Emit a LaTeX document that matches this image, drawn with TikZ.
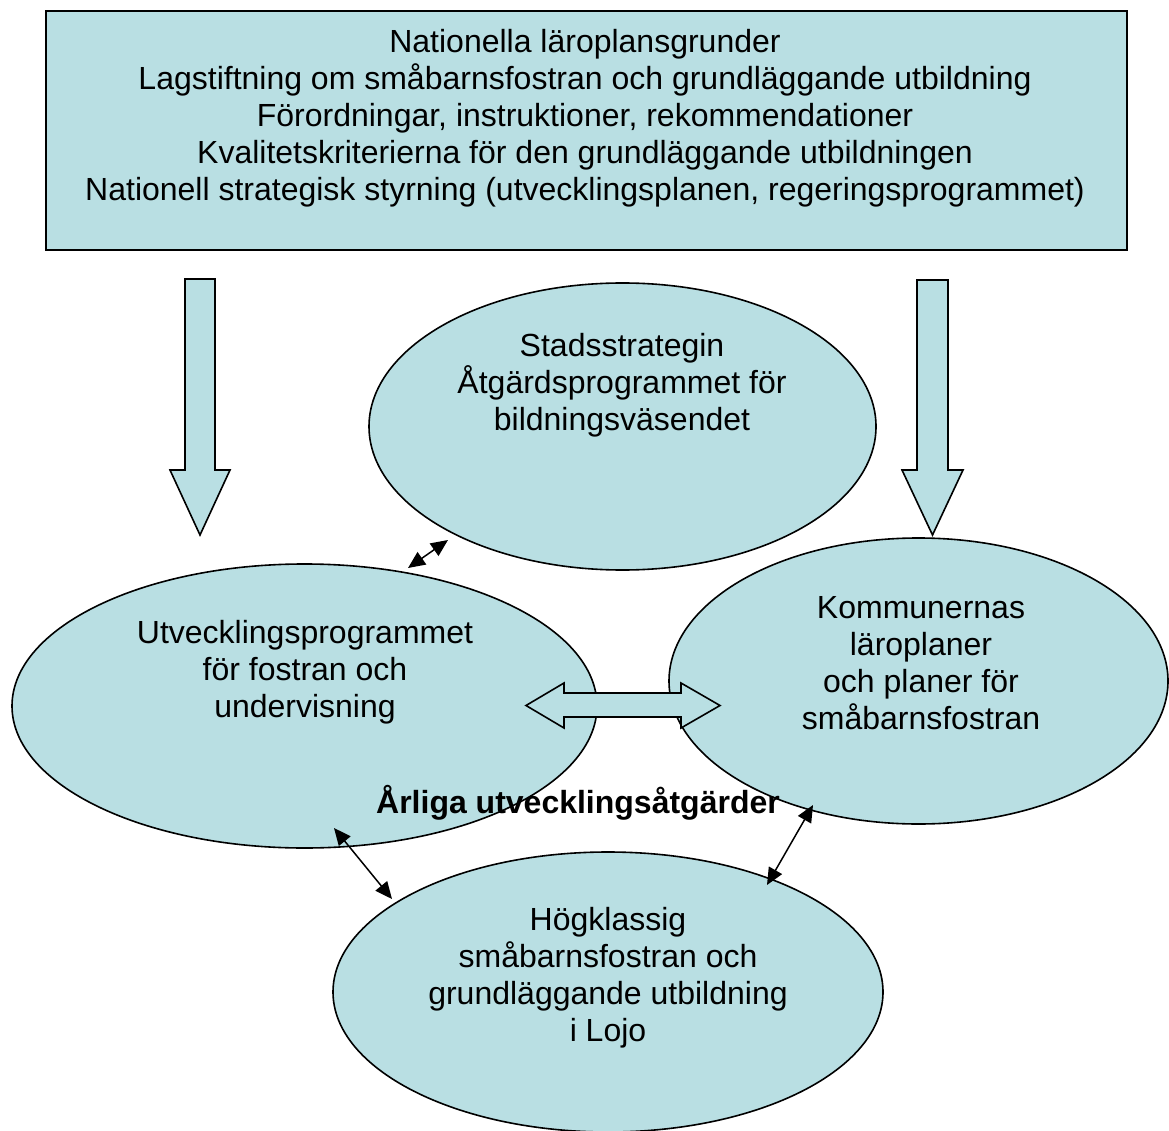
\documentclass[tikz,border=0pt]{standalone}
\usepackage{fontspec}
\setmainfont{Liberation Sans}
\usetikzlibrary{shapes.geometric,arrows.meta}
\definecolor{boxfill}{RGB}{185,223,227}
\begin{document}
\begin{tikzpicture}[x=1pt,y=-1pt,
  shapebox/.style={draw=black,line width=1.6pt,fill=boxfill,line join=miter},
  oval/.style={draw=black,line width=1.6pt,fill=boxfill,ellipse,inner sep=0pt,outer sep=0pt},
  txt/.style={font=\fontsize{32}{37}\selectfont,align=center,inner sep=0pt},
  boldtxt/.style={font=\bfseries\fontsize{32}{37}\selectfont,align=center,inner sep=0pt},
  link/.style={line width=1.5pt,{Triangle[length=17pt,width=15pt]}-{Triangle[length=17pt,width=15pt]}}
]
\useasboundingbox (0,0) rectangle (1169,1131);
\clip (0,0) rectangle (1169,1131);
\fill[white] (0,0) rectangle (1169,1131);

% top box
\node[shapebox, rectangle, minimum width=1081pt, minimum height=239pt, inner sep=0pt, anchor=north west] (topbox) at (45,10) {};
\node[txt] (toptext) at (585,118) {Nationella läroplansgrunder\\
Lagstiftning om småbarnsfostran och grundläggande utbildning\\
Förordningar, instruktioner, rekommendationer\\
Kvalitetskriterierna för den grundläggande utbildningen\\
Nationell strategisk styrning (utvecklingsplanen, regeringsprogrammet)};

% down block arrows
\draw[shapebox] (185,279) -- (215,279) -- (215,470) -- (230,470) -- (200,535) -- (170,470) -- (185,470) -- cycle;
\draw[shapebox] (917,280) -- (948,280) -- (948,470) -- (963,470) -- (932.5,535) -- (902,470) -- (917,470) -- cycle;

% ellipses
\node[oval, minimum width=507pt, minimum height=287pt] (strat) at (622.5,426.5) {};
\node[oval, minimum width=585pt, minimum height=284pt] (utv) at (304.5,706) {};
\node[oval, minimum width=499pt, minimum height=286pt] (komm) at (918.5,681) {};
\node[oval, minimum width=550pt, minimum height=280pt] (hog) at (608,992) {};

% double block arrow
\draw[shapebox] (526,705.5) -- (564,683) -- (564,693) -- (681,693) -- (681,683) -- (720,705.5) -- (681,728) -- (681,717) -- (564,717) -- (564,728) -- cycle;

% texts
\node[txt] (strattext) at (622,385) {Stadsstrategin\\Åtgärdsprogrammet för\\bildningsväsendet};
\node[txt] (utvtext) at (305,672) {Utvecklingsprogrammet\\för fostran och\\undervisning};
\node[txt] (kommtext) at (921,663.5) {Kommunernas\\läroplaner\\och planer för\\småbarnsfostran};
\node[txt] (hogtext) at (608,977.5) {Högklassig\\småbarnsfostran och\\grundläggande utbildning\\i Lojo};
\node[boldtxt] (arliga) at (578,803) {Årliga utvecklingsåtgärder};

% small links
\coordinate (l1a) at (408,568); \coordinate (l1b) at (448,540);
\coordinate (l2a) at (334,828); \coordinate (l2b) at (392,899);
\coordinate (l3a) at (813,805); \coordinate (l3b) at (767,885);
\draw[link] (l1a) -- (l1b);
\draw[link] (l2a) -- (l2b);
\draw[link] (l3a) -- (l3b);
\end{tikzpicture}
\end{document}
